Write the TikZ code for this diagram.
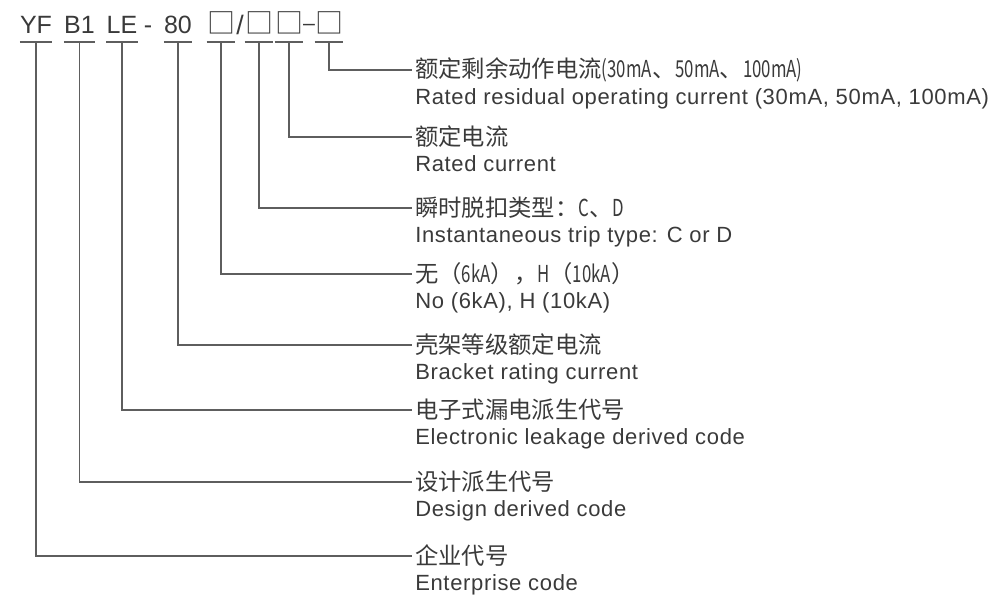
\documentclass[tikz,border=0pt]{standalone}
\usepackage{fontspec}
\setmainfont{Liberation Sans}
\newfontfamily\cjk{Noto Sans CJK SC}
\newfontfamily\cjketroit[FakeStretch=0.72]{Noto Sans CJK SC}
\newcommand\etroit[1]{{\cjketroit #1}}
\usetikzlibrary{positioning}
\definecolor{texte}{HTML}{3A3A3A}
\definecolor{trait}{HTML}{5E5E5E}

\begin{document}
\begin{tikzpicture}[x=0.75pt,y=-0.75pt]
\tikzstyle{lien}=[trait,line width=1pt]
\tikzstyle{barre}=[trait,line width=1.5pt]
\tikzset{code/.style={inner sep=0pt,anchor=base,text=texte,font=\fontsize{18.75pt}{20pt}\selectfont},
case/.style={code,font=\cjk\fontsize{21pt}{22pt}\selectfont},
cn/.style={inner xsep=2.25pt,inner ysep=0pt,anchor=west,text=texte,font=\cjk\fontsize{17.5pt}{18pt}\selectfont},
en/.style={inner sep=0pt,anchor=base west,text=texte,font=\addfontfeature{LetterSpace=3}\fontsize{16.5pt}{18pt}\selectfont}}
\useasboundingbox (0,0) rectangle (998,594);
% modele
\node[code] (yf) at (36,33) {YF};
\node[code] (bi) at (79.5,33) {B1};
\node[code] (le) at (122,33) {LE};
\node[code] (t1) at (148,33) {-};
\node[code] (ac) at (178,33) {80};
\node[case] (pk) at (221,33) {□};
\node[code,font=\fontsize{20pt}{22pt}\selectfont] (t2) at (240,34) {/};
\node[case] (ty) at (259,33) {□};
\node[case] (in) at (289,33) {□};
\node[code,font=\fontsize{16pt}{18pt}\selectfont] (t3) at (309,30) {–};
\node[case] (dl) at (329,33) {□};
\foreach \nm in {yf,bi,le,ac,pk,ty,in,dl}
\draw[barre] (\nm.west |- 0,42) -- (\nm.east |- 0,42);
% libelles
\foreach \nm/\yy/\cntxt/\entxt in {
dl/70/{额定剩余动作电流\etroit{(30mA}、\etroit{50mA}、\etroit{100mA)}}/{Rated residual operating current (30mA, 50mA, 100mA)},
in/137/{额定电流}/{Rated current},
ty/208/{瞬时脱扣类型：\etroit{C}、\etroit{D}}/{Instantaneous trip type: C or D},
pk/274/{无（\etroit{6kA}），\etroit{H}（\etroit{10kA}）}/{No (6kA), H (10kA)},
ac/345/{壳架等级额定电流}/{Bracket rating current},
le/410/{电子式漏电派生代号}/{Electronic leakage derived code},
bi/482/{设计派生代号}/{Design derived code},
yf/556/{企业代号}/{Enterprise code}}{
\node[cn] (c\nm) at (412,\yy) {\cntxt};
\node[en] (e\nm) at (415,\yy+34) {\entxt};
\draw[lien] (\nm.center |- 0,42) |- (c\nm.west);
}
\end{tikzpicture}
\end{document}
